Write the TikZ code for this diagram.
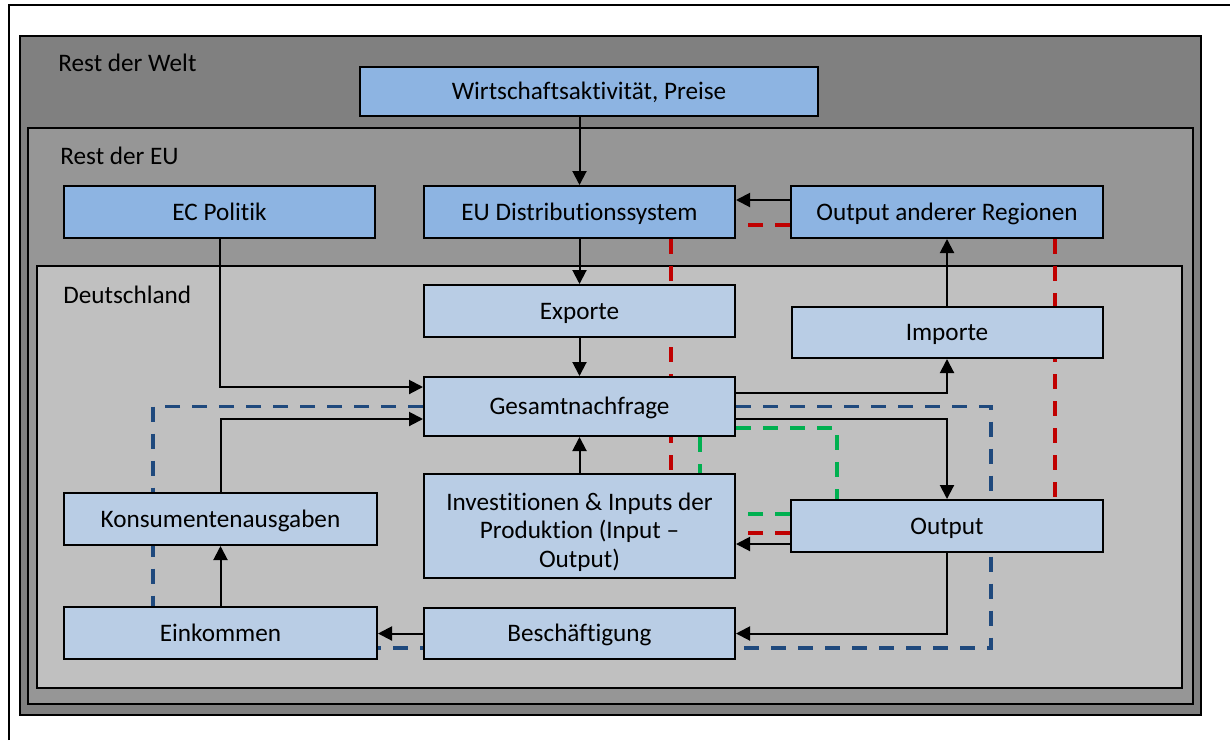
\documentclass[tikz,border=0pt]{standalone}
\usepackage{fontspec}
\setmainfont{Carlito}[Ligatures=NoCommon]
\usetikzlibrary{arrows.meta,positioning}
\pgfdeclarelayer{bg}
\pgfdeclarelayer{lines}
\pgfsetlayers{bg,lines,main}
\definecolor{weltgray}{RGB}{128,128,128}
\definecolor{eugray}{RGB}{150,150,150}
\definecolor{degray}{RGB}{192,192,192}
\definecolor{darkbox}{RGB}{141,180,226}
\definecolor{lightbox}{RGB}{185,205,229}
\definecolor{bluedash}{RGB}{31,73,125}
\definecolor{reddash}{RGB}{192,0,0}
\definecolor{greendash}{RGB}{0,176,80}

\begin{document}
\begin{tikzpicture}[x=0.5pt,y=-0.5pt,font=\fontsize{12.6}{14.25}\selectfont,
   box/.style={draw,line width=1pt,minimum width=155.5pt,minimum height=26pt,inner sep=0pt,
      text height=10.6pt,text depth=2.2pt},
   eubox/.style={box,fill=darkbox},
   debox/.style={box,fill=lightbox},
   flow/.style={line width=1pt,-{Triangle[length=7pt,width=7pt]}},
   link/.style={line width=1.6pt,dash pattern=on 7.5pt off 6pt},
   region/.style={draw,line width=1pt}]
   \useasboundingbox (0,0) rectangle (1230,740);
   \draw[line width=1.25pt] (9,740) -- (9,5) -- (1230,5);
   % regions
   \begin{pgfonlayer}{bg}
   \filldraw[region,fill=weltgray] (20,36) rectangle (1201,715);
   \filldraw[region,fill=eugray] (28,128) rectangle (1193,704);
   \filldraw[region,fill=degray] (37,266) rectangle (1182,688);
   \end{pgfonlayer}
   \node[anchor=west,inner sep=0pt] (welt) at (58,63) {Rest der Welt};
   \node[anchor=west,inner sep=0pt] (resteu) at (60,156) {Rest der EU};
   \node[anchor=west,inner sep=0pt] (de) at (63,295) {Deutschland};
   % boxes
   \node[eubox,minimum width=229pt,minimum height=24.5pt] (wirt) at (589,91.5) {Wirtschaftsaktivität, Preise};
   \node[eubox] (ecpol) at (219.5,212) {EC Politik};
   \node[eubox] (eudist) at (579.5,212) {EU Distributionssystem};
   \node[eubox,minimum width=156pt] (outreg) at (947,212) {Output anderer Regionen};
   \node[debox] (exp) at (579.5,311) {Exporte};
   \node[debox,minimum height=25.5pt] (imp) at (947,332.5) {Importe};
   \node[debox,minimum height=29.5pt] (gesamt) at (579.5,406.5) {Gesamtnachfrage};
   \node[debox,minimum width=156.5pt] (konsum) at (220.5,519) {Konsumentenausgaben};
   \node[debox,minimum height=52pt,
      label={[yshift=-3pt,align=center,inner sep=0pt]center:Investitionen \& Inputs der\\Produktion (Input –\\Output)}]
      (invest) at (579.5,526) {};
   \node[debox,minimum width=156pt] (output) at (947,526) {Output};
   \node[debox,minimum width=156.5pt] (eink) at (220.5,633) {Einkommen};
   \node[debox,minimum height=25.5pt] (besch) at (579.5,633.5) {Beschäftigung};
   \coordinate (bcorner) at (991,648);
   % connectors
   \begin{pgfonlayer}{lines}
   \draw[flow] (wirt.south -| eudist) -- (eudist);
   \draw[flow] ([yshift=6pt]outreg.west) -- ([yshift=6pt]eudist.east);
   \path[flow]
    (eudist) edge (exp)
    (exp) edge (gesamt)
    (invest) edge (gesamt)
    (imp) edge (outreg)
    (eink) edge (konsum);
   \draw[flow] (ecpol) |- ([yshift=9.75pt]gesamt.west);
   \draw[flow] (konsum) |- ([yshift=-6.25pt]gesamt.west);
   \draw[flow] ([yshift=6.75pt]gesamt.east) -| (imp);
   \draw[flow] ([yshift=-6.25pt]gesamt.east) -| (output);
   \draw[flow] ([yshift=-9pt]output.west) -- ([yshift=-9pt]invest.east);
   \draw[flow] (output) |- (besch);
   \draw[flow] (besch.west) -- (besch.west -| eink.east);
   % dashed links
   \draw[link,bluedash] (gesamt.west) -| ([xshift=-33.75pt]eink.north);
   \draw[link,bluedash] (gesamt.east) -| (bcorner) -- (bcorner -| eink.east);
   \draw[link,reddash] ([yshift=-6.5pt]outreg.west) -- ([yshift=-6.5pt]eudist.east);
   \draw[link,reddash] ([xshift=45.75pt]eudist.south) -- ([xshift=45.75pt]invest.north);
   \draw[link,reddash] ([xshift=54pt]outreg.south) -- ([xshift=54pt]output.north);
   \draw[link,reddash] ([yshift=-3.5pt]output.west) -- ([yshift=-3.5pt]invest.east);
   \draw[link,greendash] ([yshift=-10.75pt]gesamt.east) -| ([xshift=-55pt]output.north);
   \draw[link,greendash] ([xshift=60.25pt]gesamt.south) -- ([xshift=60.25pt]invest.north);
   \draw[link,greendash] ([yshift=6pt]output.west) -- ([yshift=6pt]invest.east);
   \end{pgfonlayer}
\end{tikzpicture}
\end{document}
